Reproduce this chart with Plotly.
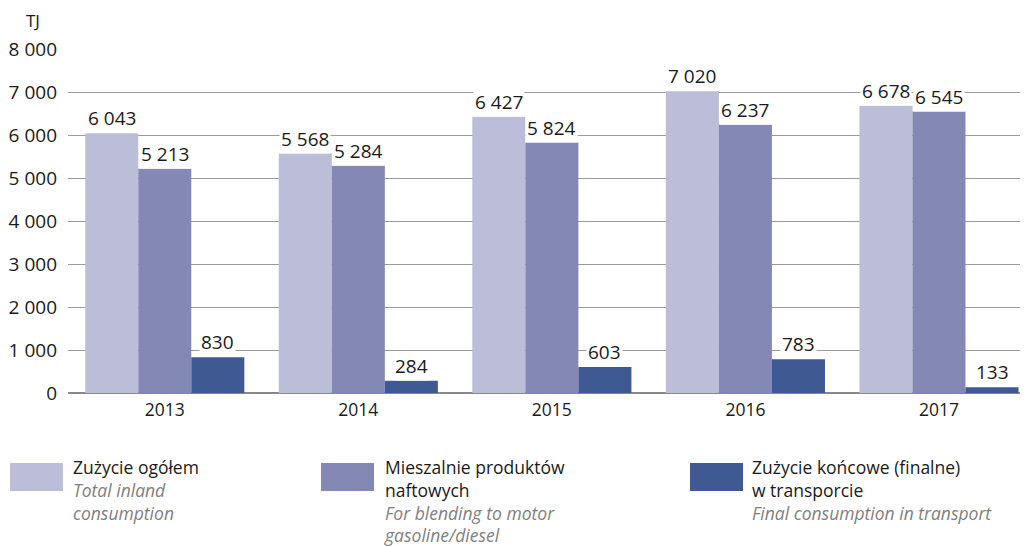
import plotly.graph_objects as go

years = ["2013", "2014", "2015", "2016", "2017"]
total_inland = [6043, 5568, 6427, 7020, 6678]
blending = [5213, 5284, 5824, 6237, 6545]
transport = [830, 284, 603, 783, 133]

series_pl = ["Zużycie ogółem", "Mieszalnie produktów<br>naftowych", "Zużycie końcowe (finalne)<br>w transporcie"]
series_en = ["Total inland<br>consumption", "For blending to motor<br>gasoline/diesel", "Final consumption in transport"]
colors = ["#BBBDD9", "#8389B4", "#3F5A93"]
y_ticks = [0, 1000, 2000, 3000, 4000, 5000, 6000, 7000, 8000]

FONT = "Myriad Pro, Open Sans, sans-serif"
OFF = 8  # page body margin
W, H = 1028 - OFF, 546 - OFF
ML, MR, MT, MB = 68 - OFF, 0, 49 - OFF, 153
PW, PH = W - ML - MR, H - MT - MB
BARGAP = 0.178

def fmt(v):
    return f"{v:,}".replace(",", " ")

def px_x(px):
    return (px - OFF - ML) / PW

def px_y(py):
    return (H - MB - (py - OFF)) / PH

fig = go.Figure()
xs = list(range(len(years)))
all_series = [total_inland, blending, transport]
for s, vals in enumerate(all_series):
    fig.add_trace(go.Bar(x=xs, y=vals, marker=dict(color=colors[s], line=dict(width=0)),
                         name=series_pl[s], showlegend=False, hoverinfo="y"))

bw = (1 - BARGAP) / 3
annotations = []
for s, vals in enumerate(all_series):
    off = (s - 1) * bw
    for i, v in enumerate(vals):
        annotations.append(dict(x=xs[i] + off, y=v, xref="x", yref="y", text=fmt(v),
                                showarrow=False, yanchor="bottom", xanchor="center",
                                bgcolor="white", borderpad=1, yshift=0,
                                font=dict(family=FONT, size=19, color="#1a1a1a")))

annotations.append(dict(x=px_x(33), y=px_y(20), xref="paper", yref="paper", text="TJ",
                        showarrow=False, xanchor="center", yanchor="middle",
                        font=dict(family=FONT, size=17, color="#1a1a1a")))

shapes = []
leg_sq_x = [10, 321, 690]
leg_tx_x = [72, 383, 751]
for s in range(3):
    shapes.append(dict(type="rect", xref="paper", yref="paper",
                       x0=px_x(leg_sq_x[s]), x1=px_x(leg_sq_x[s] + 53),
                       y0=px_y(491), y1=px_y(463), fillcolor=colors[s], line=dict(width=0)))
    en_lines = "<br>".join(f"<span style='color:#808080'><i>{t}</i></span>" for t in series_en[s].split("<br>"))
    annotations.append(dict(x=px_x(leg_tx_x[s]), y=px_y(454), xref="paper", yref="paper",
                            text=series_pl[s] + "<br>" + en_lines, showarrow=False,
                            xanchor="left", yanchor="top", align="left", borderpad=0,
                            font=dict(family=FONT, size=17.5, color="#1a1a1a")))

fig.update_layout(
    width=W, height=H,
    margin=dict(l=ML, r=MR, t=MT, b=MB, pad=0),
    paper_bgcolor="white", plot_bgcolor="white",
    barmode="group", bargap=BARGAP, bargroupgap=0,
    separators=", ",
    font=dict(family=FONT, size=17, color="#1a1a1a"),
    xaxis=dict(tickmode="array", tickvals=xs, ticktext=years, range=[-0.5, 4.46],
               showgrid=False, zeroline=False, showline=False, ticks="",
               ticklabelstandoff=4,
               tickfont=dict(family=FONT, size=17.5, color="#1a1a1a"), fixedrange=True),
    yaxis=dict(range=[0, 8000], tickmode="array", tickvals=y_ticks,
               ticktext=[fmt(v) for v in y_ticks], showgrid=True, gridcolor="#9a9a9a", gridwidth=1,
               zeroline=True, zerolinecolor="#888888", zerolinewidth=2, showline=False, ticks="",
               ticklabelstandoff=10, tickfont=dict(family=FONT, size=19, color="#1a1a1a"), fixedrange=True),
    annotations=annotations, shapes=shapes,
)

fig.write_html("out.html")
